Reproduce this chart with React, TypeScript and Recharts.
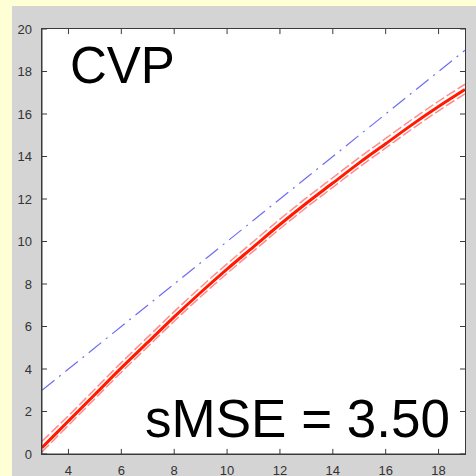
import React from "react";
import { LineChart, Line, XAxis, YAxis, ReferenceLine } from "recharts";

const xs = [3, 4, 5, 6, 7, 8, 9, 10, 11, 12, 13, 14, 15, 16, 17, 18, 19];
const cvpMean = [0.3, 1.55, 2.8, 4.05, 5.25, 6.45, 7.6, 8.7, 9.75, 10.8, 11.8, 12.75, 13.7, 14.6, 15.5, 16.35, 17.15];
const cvpUpper = [0.6, 1.8, 3.05, 4.3, 5.5, 6.7, 7.85, 8.95, 10.0, 11.05, 12.05, 13.0, 13.95, 14.85, 15.75, 16.6, 17.4];
const cvpLower = [0.1, 1.35, 2.6, 3.85, 5.05, 6.25, 7.4, 8.5, 9.55, 10.6, 11.6, 12.55, 13.5, 14.4, 15.3, 16.15, 16.95];
const identity = [3, 4, 5, 6, 7, 8, 9, 10, 11, 12, 13, 14, 15, 16, 17, 18, 19];

const xTicks = [4, 6, 8, 10, 12, 14, 16, 18];
const yTicks = [0, 2, 4, 6, 8, 10, 12, 14, 16, 18, 20];

const X_MIN = 3;
const X_MAX = 19;
const Y_MIN = 0;
const Y_MAX = 20;

const data = xs.map((x, i) => ({
  x,
  mean: cvpMean[i],
  upper: cvpUpper[i],
  lower: cvpLower[i],
  ideal: identity[i],
}));

const font = "Liberation Sans, Arial, sans-serif";
const boxColor = "#3a3a3a";
const tickStyle = { fill: "#333", fontSize: 13, fontFamily: font };
// inward tick length (~5px) expressed in data units
const TX = 0.19;
const TY = 0.24;

const App: React.FC = () => {
  return (
    <div
      style={{
        position: "fixed",
        left: 0,
        top: 0,
        width: 476,
        height: 476,
        background: "#ffffd6",
        overflow: "hidden",
      }}
    >
      <div
        style={{
          position: "absolute",
          left: 12,
          top: 6,
          width: 464,
          height: 470,
          background: "#d4d4d4",
        }}
      />
      {/* white plot face + box behind the svg */}
      <div
        style={{
          position: "absolute",
          left: 41,
          top: 28,
          width: 425,
          height: 427,
          boxSizing: "border-box",
          border: `1px solid ${boxColor}`,
          background: "#fff",
        }}
      />
      <div style={{ position: "absolute", left: 0, top: 0 }}>
        <LineChart
          width={476}
          height={476}
          data={data}
          margin={{ top: 29, right: 11, left: 12, bottom: 0 }}
        >
          <XAxis
            dataKey="x"
            type="number"
            domain={[X_MIN, X_MAX]}
            ticks={xTicks}
            height={22}
            tickLine={false}
            tickMargin={6}
            tick={tickStyle}
            stroke={boxColor}
            allowDataOverflow
          />
          <YAxis
            type="number"
            domain={[Y_MIN, Y_MAX]}
            ticks={yTicks}
            width={30}
            tickLine={false}
            tickMargin={4}
            tick={tickStyle}
            stroke={boxColor}
            allowDataOverflow
          />
          {xTicks.map((t) => (
            <ReferenceLine
              key={`xb${t}`}
              segment={[{ x: t, y: Y_MIN }, { x: t, y: Y_MIN + TY }]}
              stroke={boxColor}
            />
          ))}
          {xTicks.map((t) => (
            <ReferenceLine
              key={`xt${t}`}
              segment={[{ x: t, y: Y_MAX }, { x: t, y: Y_MAX - TY }]}
              stroke={boxColor}
            />
          ))}
          {yTicks.map((t) => (
            <ReferenceLine
              key={`yl${t}`}
              segment={[{ x: X_MIN, y: t }, { x: X_MIN + TX, y: t }]}
              stroke={boxColor}
            />
          ))}
          {yTicks.map((t) => (
            <ReferenceLine
              key={`yr${t}`}
              segment={[{ x: X_MAX, y: t }, { x: X_MAX - TX, y: t }]}
              stroke={boxColor}
            />
          ))}
          <Line
            dataKey="ideal"
            type="linear"
            stroke="#6e6ef2"
            strokeWidth={1.2}
            strokeDasharray="16 6 2 6"
            dot={false}
            isAnimationActive={false}
          />
          <Line
            dataKey="upper"
            type="monotone"
            stroke="#ff4040"
            strokeOpacity={0.6}
            strokeWidth={1.5}
            strokeDasharray="10 3"
            dot={false}
            isAnimationActive={false}
          />
          <Line
            dataKey="lower"
            type="monotone"
            stroke="#ff4040"
            strokeOpacity={0.6}
            strokeWidth={1.5}
            strokeDasharray="10 3"
            dot={false}
            isAnimationActive={false}
          />
          <Line
            dataKey="mean"
            type="monotone"
            stroke="#ff1a00"
            strokeWidth={3}
            dot={false}
            isAnimationActive={false}
          />
        </LineChart>
      </div>
      <div
        style={{
          position: "absolute",
          left: 70,
          top: 40,
          fontFamily: font,
          fontSize: 51,
          color: "#000",
          lineHeight: 1,
        }}
      >
        CVP
      </div>
      <div
        style={{
          position: "absolute",
          right: 26,
          top: 392,
          fontFamily: font,
          fontSize: 53,
          color: "#000",
          lineHeight: 1,
          whiteSpace: "nowrap",
        }}
      >
        sMSE = 3.50
      </div>
    </div>
  );
};

export default App;
